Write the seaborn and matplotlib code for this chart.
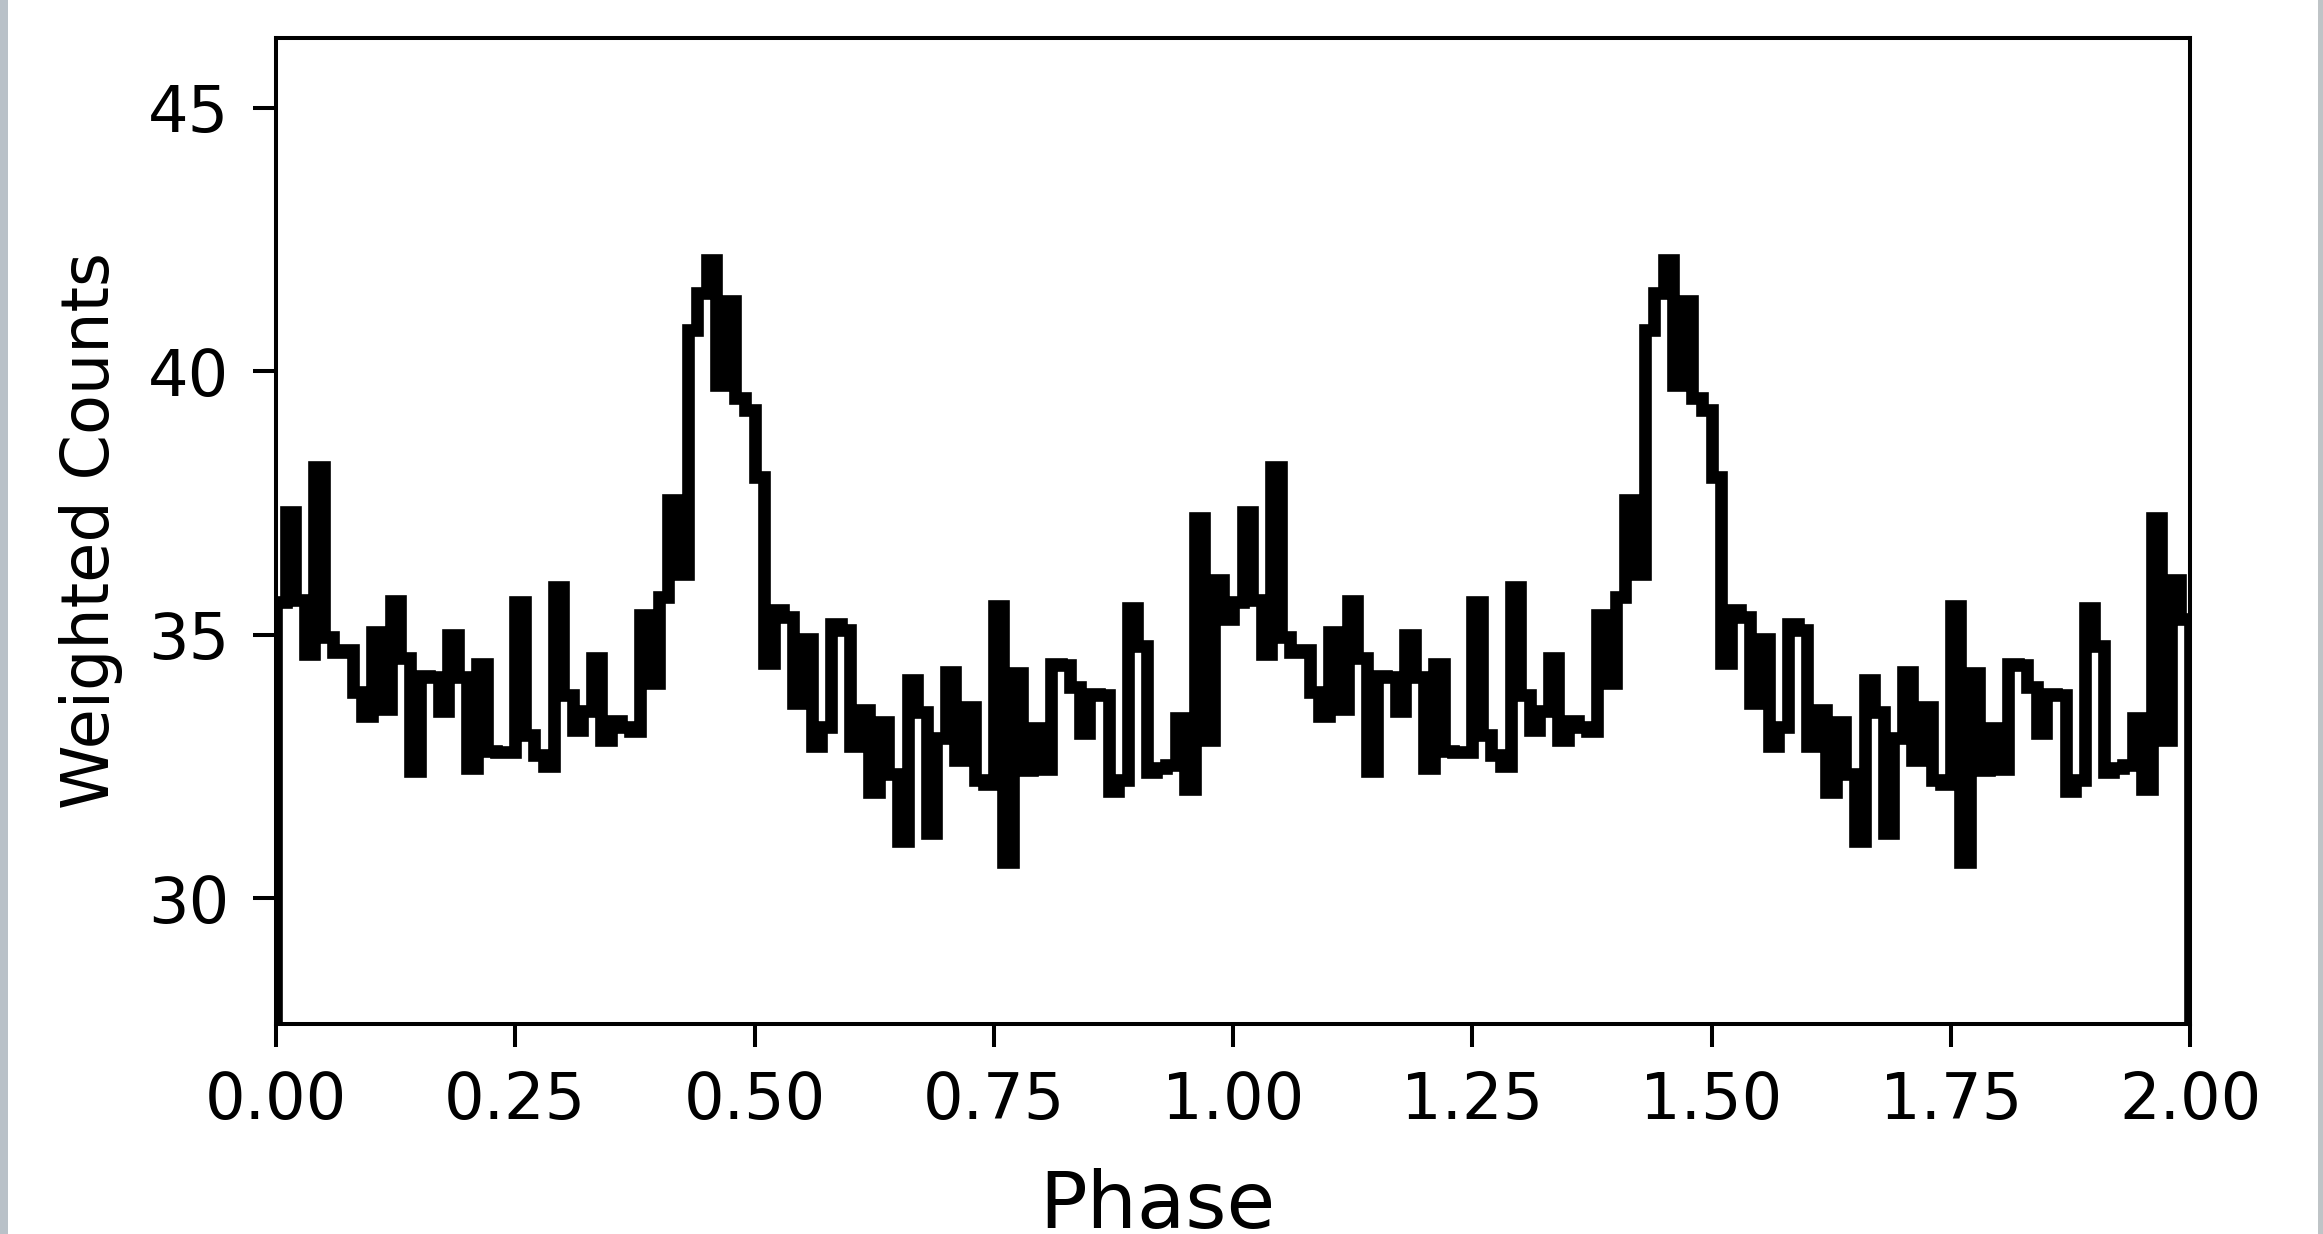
import numpy as np
import matplotlib
matplotlib.use("Agg")
import matplotlib.pyplot as plt
import seaborn as sns
from matplotlib.patches import Rectangle

# ---------------- data ----------------
# weighted counts in 100 phase bins covering one rotation (0..1)
counts = [
    35.62, 37.32, 35.66, 34.64, 38.18, 34.95, 34.68, 34.70, 33.92, 33.45,
    35.05, 33.59, 35.63, 34.55, 32.42, 34.21, 34.19, 33.55, 34.99, 34.20,
    32.47, 34.45, 32.79, 32.77, 32.78, 35.61, 33.09, 32.72, 32.51, 35.90,
    33.85, 33.19, 33.56, 34.55, 33.00, 33.36, 33.25, 33.17, 35.38, 34.09,
    35.71, 37.56, 36.16, 40.78, 41.48, 42.11, 39.73, 41.33, 39.49, 39.27,
    38.00, 34.47, 35.46, 35.33, 33.71, 34.91, 32.89, 33.24, 35.21, 35.09,
    32.89, 33.57, 32.02, 33.35, 32.35, 31.09, 34.14, 33.54, 31.23, 33.03,
    34.30, 32.63, 33.62, 32.24, 32.16, 35.55, 30.68, 34.27, 32.43, 33.23,
    32.45, 34.45, 34.43, 34.00, 33.14, 33.88, 33.85, 32.04, 32.25, 35.51,
    34.78, 32.39, 32.47, 32.52, 33.41, 32.08, 37.22, 33.00, 36.03, 35.29,
]
n_periods = 2
x_ticks = [0.0, 0.25, 0.5, 0.75, 1.0, 1.25, 1.5, 1.75, 2.0]
x_tick_labels = ["0.00", "0.25", "0.50", "0.75", "1.00", "1.25", "1.50", "1.75", "2.00"]
y_ticks = [30, 35, 40, 45]
y_tick_labels = ["30", "35", "40", "45"]
x_label = "Phase"
y_label = "Weighted Counts"

# ---------------- style ----------------
sns.set_theme(style="ticks", rc={
    "axes.linewidth": 2.9,
    "axes.edgecolor": "black",
    "xtick.major.size": 16.8,
    "ytick.major.size": 16.8,
    "xtick.major.width": 2.9,
    "ytick.major.width": 2.9,
    "xtick.major.pad": 16.3,
    "ytick.major.pad": 17.0,
    "xtick.color": "black",
    "ytick.color": "black",
    "xtick.labelsize": 46,
    "ytick.labelsize": 46,
})
plt.rcParams["font.family"] = ["DejaVu Sans"]

nb = len(counts)
n_bins = nb * n_periods
edges = np.linspace(0.0, float(n_periods), n_bins + 1)
centers = 0.5 * (edges[:-1] + edges[1:])
weights = np.tile(np.asarray(counts, dtype=float), n_periods)

fig = plt.figure(figsize=(23.23, 12.34), dpi=100)
fig.patch.set_facecolor("white")
ax = fig.add_axes([276 / 2323, 210 / 1234, 1914 / 2323, 986 / 1234])

sns.histplot(x=centers, weights=weights, bins=n_bins, binrange=(0, n_periods),
             element="step", fill=True,
             color="black", facecolor="none", edgecolor="black", linewidth=9.1,
             joinstyle="miter", ax=ax)

ax.set_xlim(0, n_periods)
ax.set_ylim(min(counts) * 0.9, max(counts) * 1.1)
ax.set_xticks(x_ticks)
ax.set_xticklabels(x_tick_labels)
ax.set_yticks(y_ticks)
ax.set_yticklabels(y_tick_labels)
ax.set_xlabel("")
ax.set_ylabel(y_label, fontsize=47, color="black")
ax.yaxis.set_label_coords(-0.080, 0.5)
for s in ax.spines.values():
    s.set_visible(True)
    s.set_linewidth(2.9)
    s.set_color("black")

fig.text(1157 / 2323, 1 - 1228 / 1234, x_label, ha="center", va="baseline",
         fontsize=57, color="black")

# thin grey borders at the image edges (screenshot frame)
fig.add_artist(Rectangle((0, 0), 8 / 2323, 1, transform=fig.transFigure,
                         facecolor="#b9c1c8", edgecolor="none"))
fig.add_artist(Rectangle((1 - 5 / 2323, 0), 5 / 2323, 1, transform=fig.transFigure,
                         facecolor="#bfc4c7", edgecolor="none"))

fig.savefig("out.png", dpi=100)
